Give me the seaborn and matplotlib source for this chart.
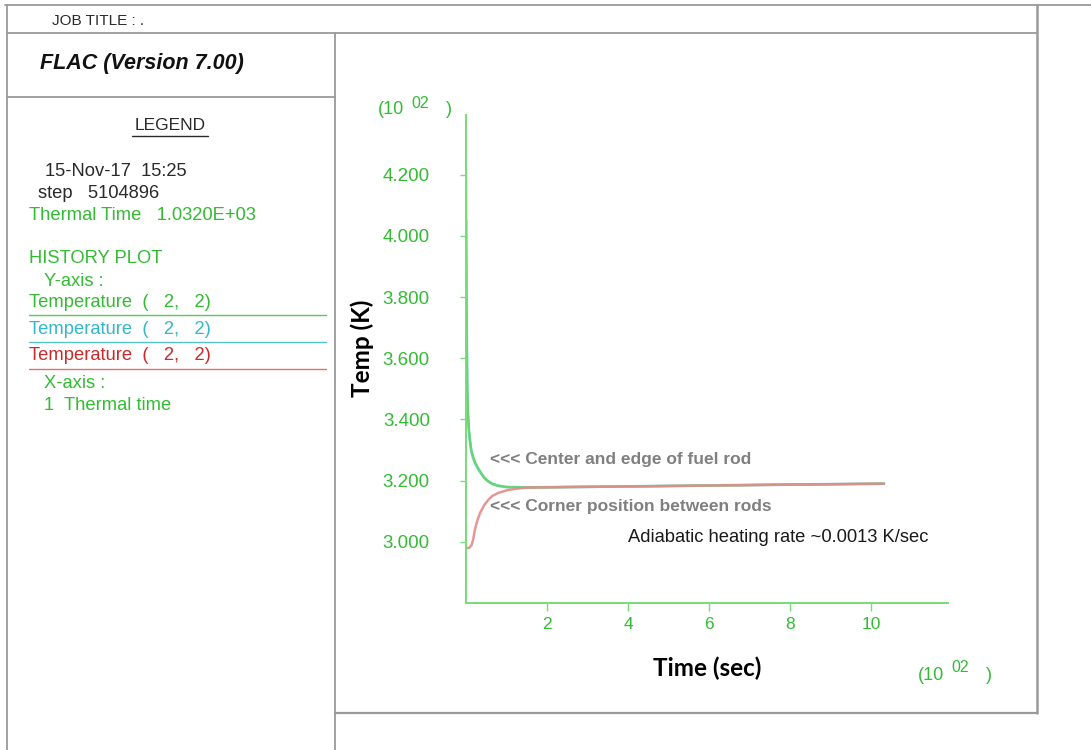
import numpy as np
import pandas as pd
import matplotlib
matplotlib.use("Agg")
import matplotlib.pyplot as plt
from matplotlib.lines import Line2D
import seaborn as sns

# ---- history data (time in 10^2 s, temperature in 10^2 K) ----
time_rod = [0.0, 0.005, 0.01, 0.02, 0.03, 0.045, 0.07, 0.10, 0.13, 0.17, 0.22,
            0.28, 0.35, 0.45, 0.55, 0.65, 0.80, 1.0, 1.3, 1.7, 2.5, 4.0, 6.0,
            8.0, 10.32]
temp_center = [4.22, 4.05, 3.88, 3.65, 3.52, 3.43, 3.37, 3.33, 3.30, 3.28, 3.262,
               3.245, 3.23, 3.21, 3.198, 3.19, 3.183, 3.179, 3.178, 3.178, 3.179,
               3.181, 3.184, 3.187, 3.190]
temp_edge = [4.05, 3.96, 3.84, 3.63, 3.51, 3.425, 3.365, 3.327, 3.298, 3.277, 3.258,
             3.243, 3.228, 3.209, 3.197, 3.189, 3.183, 3.179, 3.178, 3.178, 3.179,
             3.181, 3.184, 3.187, 3.190]
time_corner = [0.0, 0.08, 0.14, 0.18, 0.22, 0.28, 0.35, 0.45, 0.55, 0.65, 0.80,
               1.0, 1.2, 1.5, 2.0, 2.5, 4.0, 6.0, 8.0, 10.32]
temp_corner = [2.98, 2.98, 2.99, 3.01, 3.04, 3.07, 3.095, 3.12, 3.137, 3.15, 3.16,
               3.168, 3.173, 3.177, 3.178, 3.179, 3.181, 3.184, 3.187, 3.190]

ytick_vals = [3.0, 3.2, 3.4, 3.6, 3.8, 4.0, 4.2]
xtick_vals = [2, 4, 6, 8, 10]

legend_rows = ["Temperature  (   2,   2)"] * 3

sns.set_theme(style="white")
plt.rcParams["font.family"] = ["Liberation Sans", "DejaVu Sans"]

W, H = 1091, 750
fig = plt.figure(figsize=(W / 100, H / 100), dpi=100)
fig.patch.set_facecolor("white")


def fx(x):
    return x / W


def fy(y):
    return 1 - y / H


def hline(x0, x1, y, color="#9a9a9a", lw=1.3):
    fig.add_artist(Line2D([fx(x0), fx(x1)], [fy(y), fy(y)], color=color, lw=lw,
                          transform=fig.transFigure))


def vline(x, y0, y1, color="#9a9a9a", lw=1.3):
    fig.add_artist(Line2D([fx(x), fx(x)], [fy(y0), fy(y1)], color=color, lw=lw,
                          transform=fig.transFigure))


def ftext(x, y, s, **kw):
    kw.setdefault("va", "center")
    kw.setdefault("ha", "left")
    fig.text(fx(x), fy(y), s, **kw)


# ---- page frame ----
hline(5, 1091, 5)
hline(7, 1037, 33)
vline(7, 5, 750)
vline(1037, 5, 713, lw=1.8)
vline(335, 33, 750)
hline(7, 335, 97)
hline(335, 1037, 713, lw=1.6)

GREEN_TXT = "#33bb33"
CYAN_TXT = "#33b8c8"
RED_TXT = "#cc2a2a"
DARK = "#2a2a2a"
FS = 13.2

ftext(52, 21, "JOB TITLE : .", fontsize=11, color=DARK)
ftext(40, 64, "FLAC (Version 7.00)", fontsize=15.5, color="#111111",
      fontweight="bold", fontstyle="italic")
ftext(170, 125, "LEGEND", fontsize=12.5, color=DARK, ha="center")
hline(132, 208, 136, color=DARK, lw=1.0)
ftext(45, 172, "15-Nov-17  15:25", fontsize=FS, color=DARK)
ftext(38, 194, "step   5104896", fontsize=FS, color=DARK)
ftext(29, 216, "Thermal Time   1.0320E+03", fontsize=FS, color=GREEN_TXT)
ftext(29, 259, "HISTORY PLOT", fontsize=FS, color=GREEN_TXT)
ftext(44, 281, "Y-axis :", fontsize=FS, color=GREEN_TXT)

row_colors = [GREEN_TXT, CYAN_TXT, RED_TXT]
line_colors = ["#55cc55", "#55c4cc", "#e07070"]
for i, (label, tc, lc) in enumerate(zip(legend_rows, row_colors, line_colors)):
    yy = 302 + i * 27
    ftext(29, yy, label, fontsize=FS, color=tc)
    hline(29, 326, yy + 13, color=lc, lw=1.0)

ftext(44, 383, "X-axis :", fontsize=FS, color=GREEN_TXT)
ftext(44, 405, "1  Thermal time", fontsize=FS, color=GREEN_TXT)

# ---- history plot ----
ax = fig.add_axes([fx(466), fy(603), fx(948) - fx(466), fy(115) - fy(603)])
ax.set_facecolor("none")

df_center = pd.DataFrame({"t": time_rod, "T": temp_center})
df_edge = pd.DataFrame({"t": time_rod, "T": temp_edge})
df_corner = pd.DataFrame({"t": time_corner, "T": temp_corner})

sns.lineplot(data=df_edge, x="t", y="T", ax=ax, color="#6fd0d6", lw=2.0,
             estimator=None, sort=False, alpha=0.9)
sns.lineplot(data=df_center, x="t", y="T", ax=ax, color="#66d466", lw=1.6,
             estimator=None, sort=False, alpha=0.9)
sns.lineplot(data=df_corner, x="t", y="T", ax=ax, color="#e58a8a", lw=1.8,
             estimator=None, sort=False, alpha=0.9)

ax.set_xlim(0, 11.9)
ax.set_ylim(2.80, 4.395)
for side in ["top", "right"]:
    ax.spines[side].set_visible(False)
for side in ["left", "bottom"]:
    ax.spines[side].set_color("#77dd77")
    ax.spines[side].set_linewidth(1.4)

ax.set_xticks(xtick_vals)
ax.set_xticklabels([str(v) for v in xtick_vals])
ax.set_yticks(ytick_vals)
ax.set_yticklabels([f"{v:.3f}" for v in ytick_vals])
ax.tick_params(axis="y", direction="out", length=4, width=1.0, color="#77dd77",
               labelcolor=GREEN_TXT, labelsize=13.5, pad=22, left=True)
ax.tick_params(axis="x", direction="out", length=6, width=1.0, color="#77dd77",
               labelcolor=GREEN_TXT, labelsize=12.5, pad=4, bottom=True)
ax.set_xlabel("")
ax.set_ylabel("")
ax.grid(False)

# axis labels and scale multipliers
ftext(362, 348, "Temp (K)", fontsize=17.5, fontweight="bold", color="#000000",
      rotation=90, ha="center", family=["Lato", "DejaVu Sans"])
ftext(707, 668, "Time (sec)", fontsize=17.5, fontweight="bold", color="#000000",
      ha="center", family=["Lato", "DejaVu Sans"])


def scale_tag(x, y):
    ftext(x, y, "(10", fontsize=13, color=GREEN_TXT)
    ftext(x + 33, y - 7, "02", fontsize=11.5, color=GREEN_TXT)
    ftext(x + 68, y, ")", fontsize=13, color=GREEN_TXT)


scale_tag(378, 110)
scale_tag(918, 675)

# annotations
ftext(490, 460, "<<< Center and edge of fuel rod", fontsize=12.5, fontweight="bold",
      color="#808080")
ftext(490, 506, "<<< Corner position between rods", fontsize=12.5, fontweight="bold",
      color="#808080")
ftext(628, 538, "Adiabatic heating rate ~0.0013 K/sec", fontsize=13.2, color="#1a1a1a")

fig.savefig("out.png", dpi=100, facecolor="white")
